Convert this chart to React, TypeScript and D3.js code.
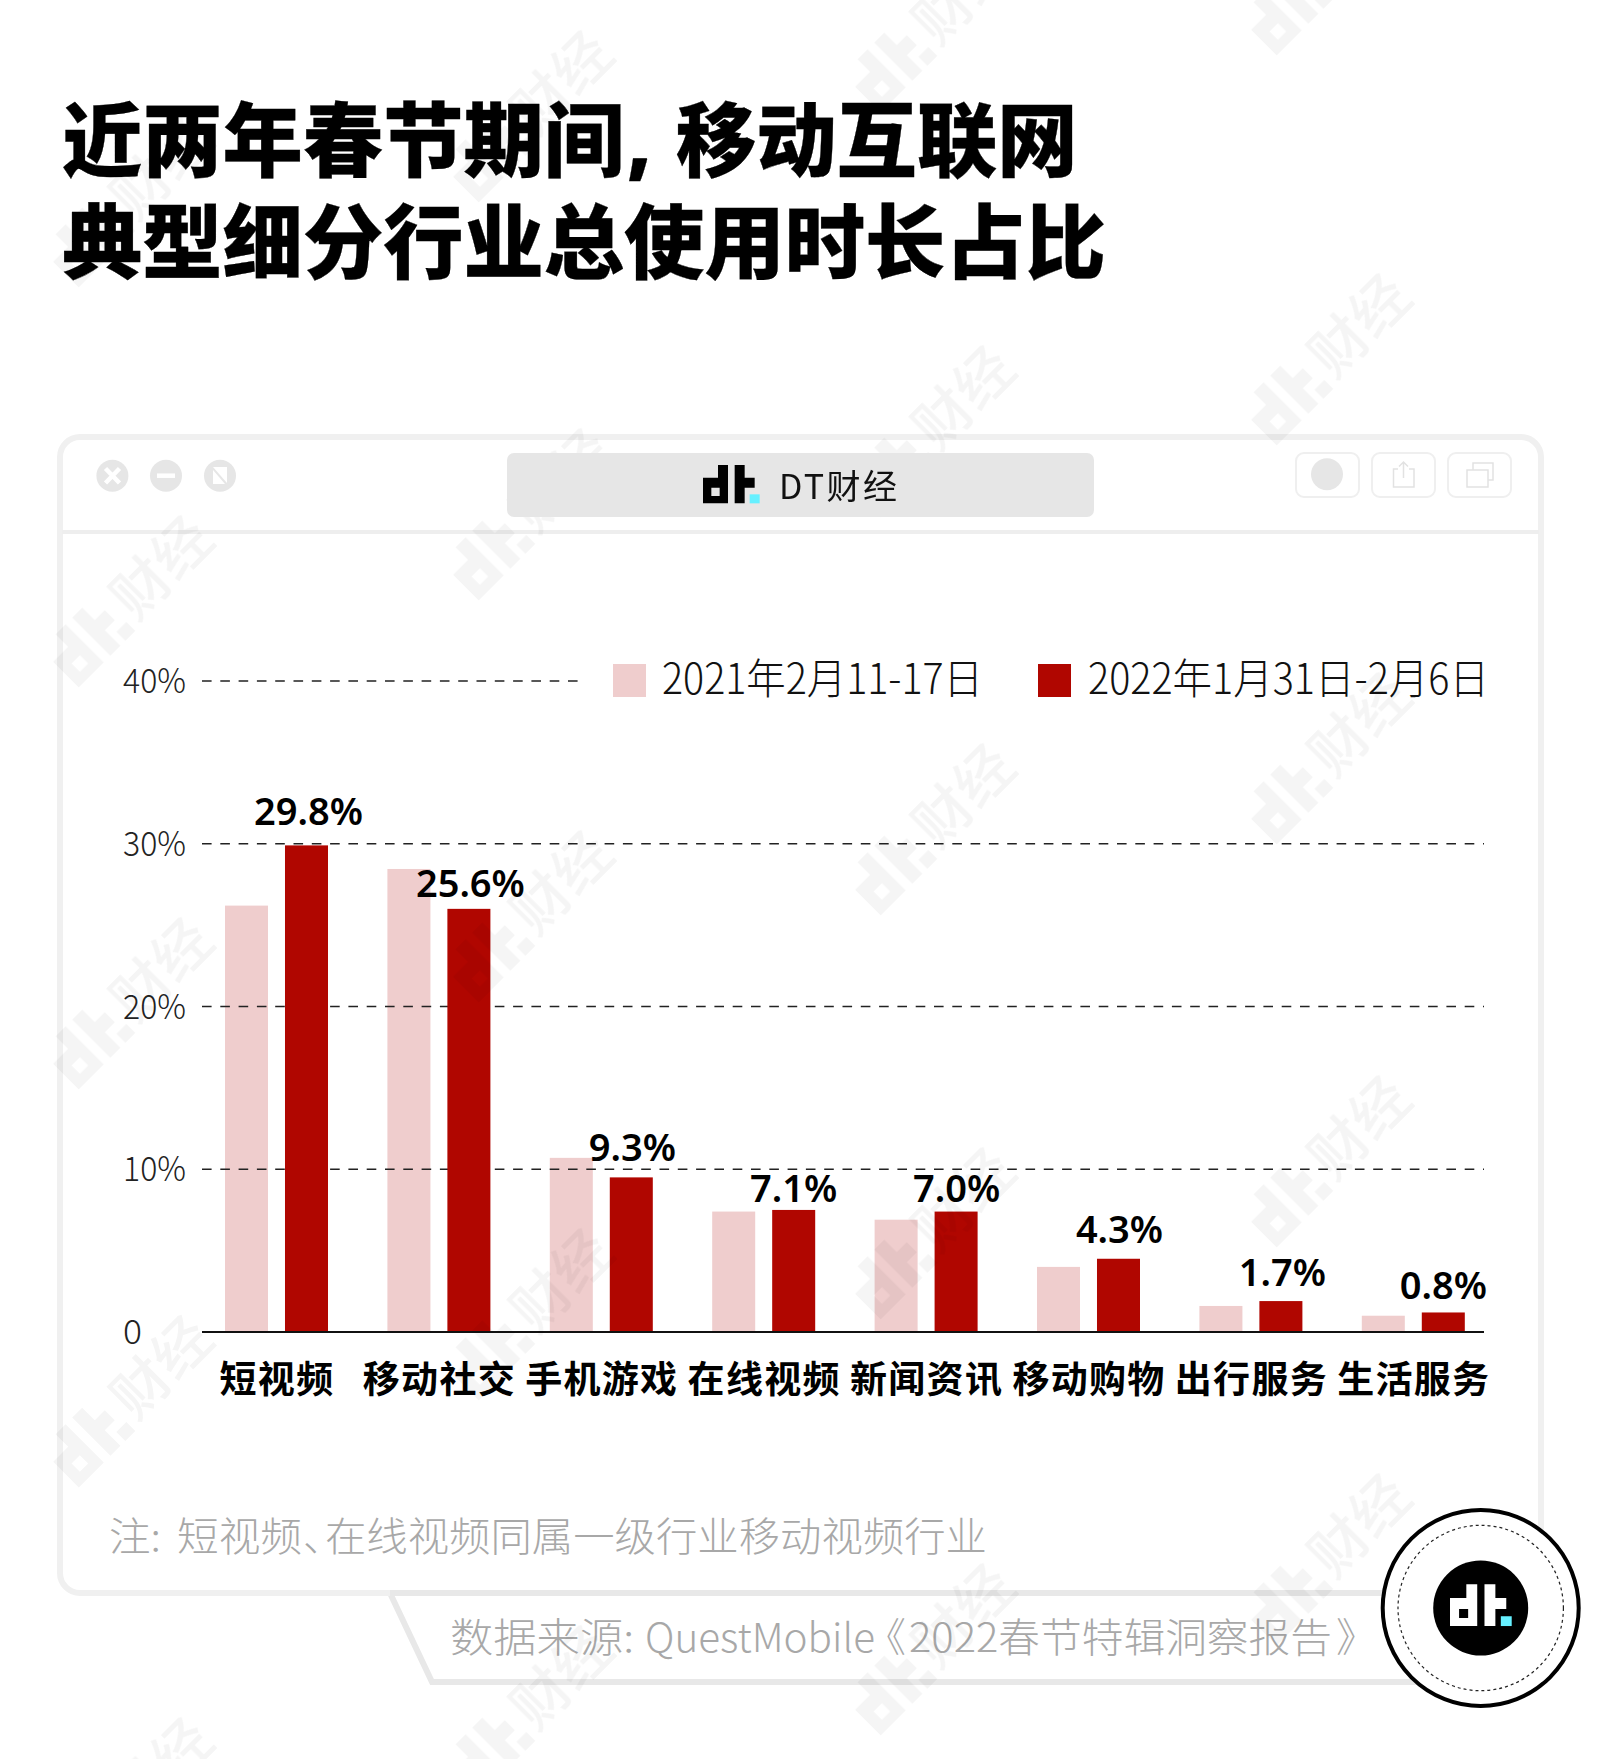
import React from 'react';
import * as d3 from 'd3';

const categories = ['短视频', '移动社交', '手机游戏', '在线视频', '新闻资讯', '移动购物', '出行服务', '生活服务'];
const values2021 = [26.2, 28.45, 10.7, 7.4, 6.9, 4.0, 1.6, 1.0];
const values2022 = [29.9, 26.0, 9.5, 7.5, 7.4, 4.5, 1.9, 1.2];
const labels2022 = ['29.8%', '25.6%', '9.3%', '7.1%', '7.0%', '4.3%', '1.7%', '0.8%'];
const yTicks = [0, 10, 20, 30, 40];
const legendLabels = ['2021年2月11-17日', '2022年1月31日-2月6日'];

const title1a = '近两年春节期间';
const title1b = '移动互联网';
const title2 = '典型细分行业总使用时长占比';

// layout only
const labelDx = [2, 1.5, 1, 0, 0.5, 1, 1.5, 0];
const labelGap = [20, 12, 16, 8, 10, 16, 15, 13];
const wmColumns: [number, number[]][] = [
  [88, [240, 640, 1042, 1440, 1842]],
  [488, [155, 553, 955, 1353, 1750]],
  [890, [65, 470, 868, 1272, 1688]],
  [1286, [8, 398, 797, 1200, 1598]],
];
const noteParts: [string, number, number][] = [
  ['注:', 109, 52],
  ['短视频', 177, 125],
  ['在线视频同属一级行业移动视频行业', 325, 662],
];
const sourceParts: [string, number, number][] = [
  ['数据来源:', 450, 184],
  ['QuestMobile', 645, 230],
  ['2022春节特辑洞察报告', 909, 423],
];

const CJK = "'Noto Sans CJK SC', 'Noto Sans', sans-serif";
const LIGHT = '#efcdcd';
const DARK = '#b00600';
const CYAN = '#66f0ff';

const y = d3.scaleLinear().domain([0, 40]).range([1332, 681]);
const x0 = d3.scaleBand<string>().domain(categories).range([195.3, 1494.5]);
const x1 = d3.scaleBand<string>().domain(['a', 'b']).range([x0.bandwidth() / 2 - 81.5 + 30, x0.bandwidth() / 2 + 81.5 - 30]).paddingInner(0.283).paddingOuter(0);

function Logo({ x, y: yy, s, fg, cyan }: { x: number; y: number; s: number; fg: string; cyan: string }) {
  return (
    <g transform={`translate(${x},${yy}) scale(${s})`}>
      <path fill={fg} fillRule="evenodd" d="M0,38H45V0H75V115H0Z M25,68V93H50V68Z" />
      <path fill={fg} d="M95,0H125V38H155V68H125V115H95Z" />
      <rect x={140} y={88} width={30} height={27} fill={cyan} />
    </g>
  );
}

function Watermark({ cx, cy }: { cx: number; cy: number }) {
  return (
    <g transform={`translate(${cx},${cy}) rotate(-45)`}>
      <Logo x={-40} y={-27} s={0.47} fg="#000" cyan="#000" />
      <text x={46} y={21} fontSize={57} fontWeight={500} fontFamily={CJK} fill="#000">财经</text>
    </g>
  );
}

export default function App() {
  const gridRight = 1484;
  const gridLeft = 202;
  const barW = x1.bandwidth();
  return (
    <svg width={1601} height={1759} viewBox="0 0 1601 1759" style={{ position: 'absolute', left: 0, top: 0, display: 'block', background: '#fff' }}>
      <rect width={1601} height={1759} fill="#fff" />

      {/* title */}
      <g fontFamily={CJK} fontWeight={900} fontSize={80.3} fill="#000" stroke="#000" strokeWidth={0.3}>
        <text x={62} y={170}>{title1a}</text>
        <text x={627} y={170} fontFamily="'Noto Sans', sans-serif" fontWeight={900}>,</text>
        <text x={676} y={170}>{title1b}</text>
        <text x={62} y={272}>{title2}</text>
      </g>

      {/* source tab */}
      <path d="M390,1593L432,1682H1420" fill="none" stroke="#e8e8e8" strokeWidth={6} />
      <path d="M390,1593H1450" fill="none" stroke="#e8e8e8" strokeWidth={6} />

      {/* window frame */}
      <path d="M390,1593H80A20,20 0 0 1 60,1573V457A20,20 0 0 1 80,437H1521A20,20 0 0 1 1541,457V1540" fill="none" stroke="#f0f0f0" strokeWidth={6} />
      <line x1={62} x2={1539} y1={532} y2={532} stroke="#eeeeee" strokeWidth={4} />

      {/* window controls */}
      <g fill="#e6e6e6">
        <circle cx={112.4} cy={475.7} r={16} />
        <circle cx={166} cy={475.7} r={16} />
        <circle cx={220} cy={475.7} r={16} />
      </g>
      <g stroke="#fff" strokeWidth={4.5} fill="none">
        <path d="M105.5,468.5L119.5,483M119.5,468.5L105.5,483" />
        <path d="M157,475.7H175" />
      </g>
      <path d="M213,467H227V483Z" fill="#fff" />
      <path d="M213,470V484H225Z" fill="#fff" />

      {/* top-right buttons */}
      <g fill="none" stroke="#efefef" strokeWidth={2}>
        <rect x={1296} y={453} width={63} height={44} rx={8} />
        <rect x={1372} y={453} width={63} height={44} rx={8} />
        <rect x={1448} y={453} width={63} height={44} rx={8} />
      </g>
      <circle cx={1327} cy={474.3} r={16} fill="#e6e6e6" />
      <g fill="none" stroke="#e2e2e2" strokeWidth={1.5}>
        <path d="M1398,469H1393.5V487H1414V469H1409M1403.5,478V462M1399,466.5L1403.5,462L1408,466.5" />
        <rect x={1467} y={470} width={21} height={17} />
        <path d="M1473,470V463H1493V480H1488" />
      </g>

      {/* legend */}
      <rect x={613} y={664} width={33} height={33} fill={LIGHT} />
      <rect x={1038} y={664} width={33} height={33} fill={DARK} />
      <g fontFamily={CJK} fontWeight={200} fontSize={42} fill="#111">
        <text x={662} y={694} textLength={321} lengthAdjust="spacingAndGlyphs">{legendLabels[0]}</text>
        <text x={1088} y={694} textLength={401} lengthAdjust="spacingAndGlyphs">{legendLabels[1]}</text>
      </g>

      {/* y axis labels */}
      <g fontFamily={CJK} fontWeight={200} fontSize={34} fill="#222">
        {yTicks.map((t) => (
          <text key={t} x={123} y={y(t) + 12} textLength={t === 0 ? 19 : 63} lengthAdjust="spacingAndGlyphs">{t === 0 ? '0' : `${t}%`}</text>
        ))}
      </g>

      {/* light bars */}
      {categories.map((c, i) => (
        <rect key={c} x={x0(c)! + x1('a')!} y={y(values2021[i])} width={barW} height={y(0) - y(values2021[i])} fill={LIGHT} />
      ))}

      {/* grid */}
      {yTicks.filter((t) => t > 0).map((t) => (
        <line key={t} x1={gridLeft} x2={t === 40 ? 580 : gridRight} y1={y(t)} y2={y(t)} stroke="#222" strokeWidth={1.5} strokeDasharray="9.6 8.7" />
      ))}

      {/* dark bars */}
      {categories.map((c, i) => (
        <rect key={c} x={x0(c)! + x1('b')!} y={y(values2022[i])} width={barW} height={y(0) - y(values2022[i])} fill={DARK} />
      ))}

      <line x1={gridLeft} x2={gridRight} y1={y(0)} y2={y(0)} stroke="#111" strokeWidth={2} />

      {/* value labels */}
      <g fontFamily="'Noto Sans', sans-serif" fontWeight={600} fontSize={38} fill="#000" textAnchor="middle">
        {categories.map((c, i) => (
          <text key={c} x={x0(c)! + x1('b')! + barW / 2 + labelDx[i]} y={y(values2022[i]) - labelGap[i]}>{labels2022[i]}</text>
        ))}
      </g>

      {/* category labels */}
      <g fontFamily={CJK} fontWeight={700} fontSize={37} fill="#000" textAnchor="middle" letterSpacing={1.3}>
        {categories.map((c) => (
          <text key={c} x={x0(c)! + x0.bandwidth() / 2 + 0.5} y={1393}>{c}</text>
        ))}
      </g>

      {/* note and source */}
      <g fontFamily={CJK} fontWeight={200} fontSize={40} fill="#a8a8a8">
        {noteParts.map(([t, px, len]) => (
          <text key={t} x={px} y={1551} textLength={len} lengthAdjust="spacingAndGlyphs">{t}</text>
        ))}
        <text x={303} y={1551}>、</text>
        {sourceParts.map(([t, px, len]) => (
          <text key={t} x={px} y={1652} textLength={len} lengthAdjust="spacingAndGlyphs">{t}</text>
        ))}
        <text x={866} y={1652}>《</text>
        <text x={1336} y={1652}>》</text>
      </g>

      {/* watermarks */}
      <g opacity={0.04}>
        {wmColumns.flatMap(([cx, ys]) => ys.map((cy) => <Watermark key={`${cx}-${cy}`} cx={cx} cy={cy} />))}
      </g>

      {/* address bar */}
      <rect x={507} y={453} width={587} height={64} rx={7} fill="#e6e6e6" />
      <Logo x={703} y={465} s={1 / 3} fg="#000" cyan={CYAN} />
      <text x={779} y={499} fontFamily={CJK} fontSize={34} fill="#111" textLength={118} lengthAdjust="spacing">DT财经</text>

      {/* badge */}
      <circle cx={1480.7} cy={1608} r={98} fill="#fff" stroke="#000" strokeWidth={4} />
      <circle cx={1480.7} cy={1608} r={82.7} fill="none" stroke="#222" strokeWidth={1.2} strokeDasharray="3 3" />
      <circle cx={1480.7} cy={1608} r={47.5} fill="#000" />
      <Logo x={1450} y={1584.3} s={0.363} fg="#fff" cyan={CYAN} />
    </svg>
  );
}
